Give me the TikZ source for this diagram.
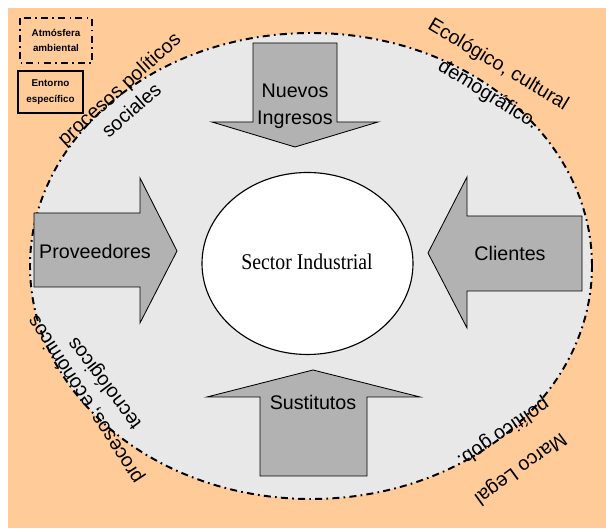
\documentclass[tikz,border=0pt]{standalone}
\usepackage{fontspec}
\setmainfont{Liberation Sans}
\newfontfamily\serifface{Liberation Serif}
\definecolor{entorno}{RGB}{255,204,153}
\definecolor{atmosfera}{RGB}{232,232,232}
\definecolor{grisflecha}{RGB}{178,178,178}

\begin{document}
\begin{tikzpicture}[x=0.025cm, y=0.025cm,
  flecha/.style={fill=grisflecha, draw=black, line width=0.6pt},
  rotulo/.style={font=\fontsize{14}{19}\selectfont, inner sep=0pt},
  borde/.style={font=\fontsize{14}{16}\selectfont, inner sep=0pt},
  leyenda/.style={font=\fontsize{7}{11}\selectfont\bfseries, align=center, inner sep=0pt},
  rayapunto/.style={dash pattern=on 5pt off 3pt on 1.2pt off 3pt}]

\useasboundingbox (0,0) rectangle (606,530);
\fill[entorno] (8,2) rectangle (606,522);

% atmosfera ambiental
\filldraw[fill=atmosfera, draw=black, line width=1.4pt, rayapunto] (311,264) ellipse (281 and 233);

% leyenda
\draw[line width=0.9pt, rayapunto] (20,512) rectangle (92,467);
\node[leyenda] (atmosfera) at (56,489.5) {Atmósfera\\ambiental};
\draw[line width=0.9pt] (18,459) rectangle (83,417);
\node[leyenda] (entorno) at (50.5,438) {Entorno\\específico};

% las cuatro fuerzas
\filldraw[flecha] (253,487) -- (337,487) -- (337,408) -- (378,408) -- (295,383) -- (212,408) -- (253,408) -- cycle;
\node[rotulo, align=center] (nuevos) at (295,424) {Nuevos\\Ingresos};

\filldraw[flecha] (34,317) -- (140,317) -- (140,352) -- (177,279) -- (140,207) -- (140,243) -- (34,243) -- cycle;
\node[rotulo] (proveedores) at (95,279) {Proveedores};

\filldraw[flecha] (582,314) -- (467,314) -- (467,353) -- (428,277) -- (467,202) -- (467,239) -- (582,239) -- cycle;
\node[rotulo] (clientes) at (510,277) {Clientes};

\filldraw[flecha] (260,54) -- (367,54) -- (367,133) -- (420,133) -- (313,160) -- (207,133) -- (260,133) -- cycle;
\node[rotulo] (sustitutos) at (313,128) {Sustitutos};

% sector
\filldraw[fill=white, draw=black, line width=0.8pt] (307.5,266.5) ellipse (105.5 and 91);
\node[font=\serifface\fontsize{16}{18}\selectfont, xscale=0.88] (sector) at (307,268) {Sector Industrial};

% entorno especifico, sobre el borde
\node[borde, rotate=42] (politicos) at (120,440) {procesos políticos};
\node[borde, rotate=41] (sociales) at (131,420) {sociales};
\node[borde, rotate=-31] (ecologico) at (498,465) {Ecológico, cultural};
\node[borde, rotate=-32] (demografico) at (488,435) {demográfico.};
\node[borde, rotate=123] (economicos) at (86,131) {procesos, económicos};
\node[borde, rotate=127] (tecnologicos) at (105,147) {tecnológicos};
\node[borde, rotate=216] (legal) at (520,62) {Marco Legal};
\node[borde, rotate=214] (gob) at (503,98) {político gob.};

\end{tikzpicture}
\end{document}
